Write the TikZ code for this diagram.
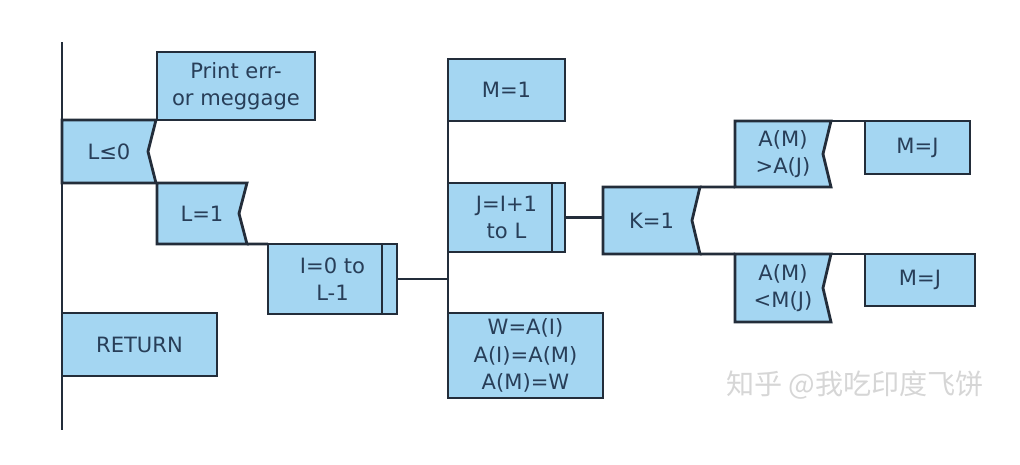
\documentclass[tikz,border=0pt]{standalone}
\usepackage{fontspec}
\setmainfont{DejaVu Sans}
\newfontfamily\cjkfont{Noto Sans CJK SC}
\usetikzlibrary{calc,backgrounds}
\definecolor{boxcol}{RGB}{164,214,242}
\definecolor{edgecol}{RGB}{35,45,58}
\definecolor{txtcol}{RGB}{40,62,88}
\tikzset{
  box/.style={draw=edgecol, fill=boxcol, line width=1.6pt, anchor=north west, inner sep=0pt,
    outer sep=0pt, align=center, text=txtcol, font=\fontsize{12}{15.5}\selectfont},
  cond/.style={box, draw=none, fill=none},
  wire/.style={draw=edgecol, line width=1.6pt},
}
% notched right side of a condition box
\newcommand{\notchbox}[1]{%
  \filldraw[draw=edgecol, fill=boxcol, line width=1.6pt]
    (#1.north west) -- (#1.north east) -- ($(#1.east)+(-8,0)$) -- (#1.south east) -- (#1.south west) -- cycle;}
% inner bar of a loop box
\newcommand{\loopbar}[2]{%
  \draw[wire] ($(#1.north east)+(-#2,0)$) -- ($(#1.south east)+(-#2,0)$);}
\begin{document}
\begin{tikzpicture}[x=0.02cm,y=-0.02cm]
\useasboundingbox (0,0) rectangle (1020,464);
% first level
\node[box, minimum width=3.16cm, minimum height=1.36cm] (err) at (157,52) {Print err-\\or meggage};
\node[cond, minimum width=1.88cm, minimum height=1.26cm] (le0) at (62,120) {L≤0};
\node[cond, minimum width=1.8cm, minimum height=1.22cm] (l1) at (157,183) {L=1};
\node[box, minimum width=2.58cm, minimum height=1.4cm] (iloop) at (268,244) {I=0 to\\L-1};
\node[box, minimum width=3.1cm, minimum height=1.26cm] (ret) at (62,313) {RETURN};
% second level
\node[box, minimum width=2.34cm, minimum height=1.24cm] (m1) at (448,59) {M=1};
\node[box, minimum width=2.34cm, minimum height=1.38cm] (jloop) at (448,183) {J=I+1\\to L};
\node[box, minimum width=3.1cm, minimum height=1.7cm] (swap) at (448,313) {W=A(I)\\A(I)=A(M)\\A(M)=W};
% inner loop
\node[cond, minimum width=1.94cm, minimum height=1.34cm] (k1) at (603,187) {K=1};
\node[cond, minimum width=1.92cm, minimum height=1.32cm] (gt) at (735,121) {A(M)\\>A(J)};
\node[box, minimum width=2.1cm, minimum height=1.06cm] (mj1) at (865,121) {M=J};
\node[cond, minimum width=1.92cm, minimum height=1.36cm] (lt) at (735,254) {A(M)\\<M(J)};
\node[box, minimum width=2.2cm, minimum height=1.04cm] (mj2) at (865,254) {M=J};
\begin{scope}[on background layer]
\notchbox{le0} \notchbox{l1} \notchbox{k1} \notchbox{gt} \notchbox{lt}
\end{scope}
\loopbar{iloop}{15}
\loopbar{jloop}{13}
% connectors
\coordinate (top) at (62,42);
\coordinate (bot) at (62,430);
\draw[wire] (top) -- (bot);
\draw[wire] (l1.south east) -- (iloop.north west);
\draw[wire] (iloop.east) -- (iloop.east -| m1.west);
\draw[wire] (m1.south west) -- (swap.north west);
\draw[wire] (jloop.east) -- (jloop.east -| k1.west);
\draw[wire] (k1.north east) -- (gt.south west);
\draw[wire] (k1.south east) -- (lt.north west);
\draw[wire] (gt.north east) -- (mj1.north west);
\draw[wire] (lt.north east) -- (mj2.north west);
% watermark
\node[font=\cjkfont\fontsize{16}{16}\selectfont, text=black!16] (mark) at (855,385) {知乎 @我吃印度飞饼};
\end{tikzpicture}
\end{document}
